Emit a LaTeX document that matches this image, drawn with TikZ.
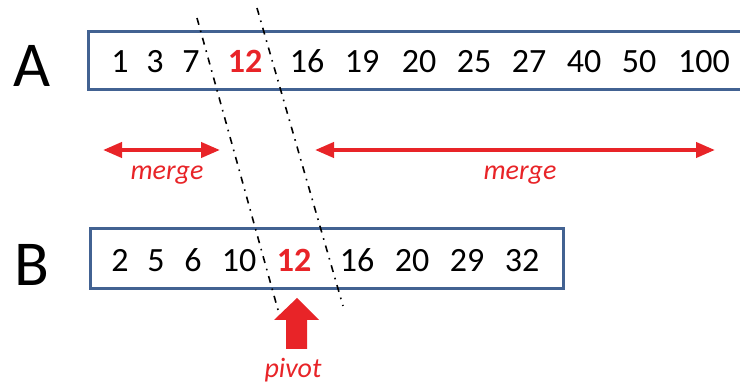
\documentclass[tikz,border=0pt]{standalone}
\usepackage{fontspec}
\setmainfont{Carlito}
\usetikzlibrary{arrows.meta,calc}
\definecolor{framecol}{RGB}{66,98,146}
\definecolor{hotred}{RGB}{232,36,40}

\begin{document}
\begin{tikzpicture}[x=1pt,y=-1pt,
	arraybox/.style={draw=framecol,line width=3pt},
	num/.style={font=\fontsize{34}{38}\selectfont,anchor=base,inner sep=0pt},
	keynum/.style={num,font=\fontsize{34}{38}\selectfont\bfseries,text=hotred},
	tag/.style={font=\fontsize{64}{70}\selectfont,anchor=base,inner sep=0pt},
	note/.style={font=\fontsize{28}{32}\selectfont\itshape,text=hotred,anchor=base,inner sep=0pt},
	span/.style={draw=hotred,line width=4pt,{Triangle[length=19pt,width=15pt]}-{Triangle[length=19pt,width=15pt]}},
	cut/.style={line width=1.6pt,dash pattern=on 7pt off 6pt on 1.6pt off 6pt}]
	\useasboundingbox (0,0) rectangle (740,387);

	\node[tag] (lblA) at (32,87) {A};
	\node[tag] (lblB) at (32,286) {B};
	\draw[arraybox] (740,32) -- (88,32) -- (88,90) -- (740,90);
	\draw[arraybox] (90,229) rectangle (563,289);

	\foreach \v/\x in {1/120,3/155,7/191,16/307,19/362,20/419,25/474,27/529,40/584,50/639,100/704}
		\node[num] (a\v) at (\x,73) {\v};
	\node[keynum] (a12) at (245,73) {12};
	\foreach \v/\x in {2/120,5/156,6/193,10/239,16/357,20/412,29/467,32/522}
		\node[num] (b\v) at (\x,272) {\v};
	\node[keynum] (b12) at (294,272) {12};

	\coordinate (cut1 top) at (197,18);
	\coordinate (cut1 end) at (278,310);
	\coordinate (cut2 top) at (257,8);
	\coordinate (cut2 end) at (343,306);
	\draw[cut] (cut1 top) -- (cut1 end);
	\draw[cut] (cut2 top) -- (cut2 end);

	\coordinate (mergeL from) at (103,150);
	\coordinate (mergeL to) at (220,150);
	\coordinate (mergeR from) at (315,150);
	\coordinate (mergeR to) at (715,150);
	\draw[span] (mergeL from) -- (mergeL to);
	\draw[span] (mergeR from) -- (mergeR to);
	\node[note] (mergeL) at (167,180) {merge};
	\node[note] (mergeR) at (520,180) {merge};

	\coordinate (pivtip) at (297,298);
	\fill[hotred] (pivtip) -- ++(22,22) -- ++(-12,0) -- ++(0,29) -- ++(-21,0) -- ++(0,-29) -- ++(-12,0) -- cycle;
	\node[note] (pivot) at (293,378) {pivot};
\end{tikzpicture}
\end{document}
